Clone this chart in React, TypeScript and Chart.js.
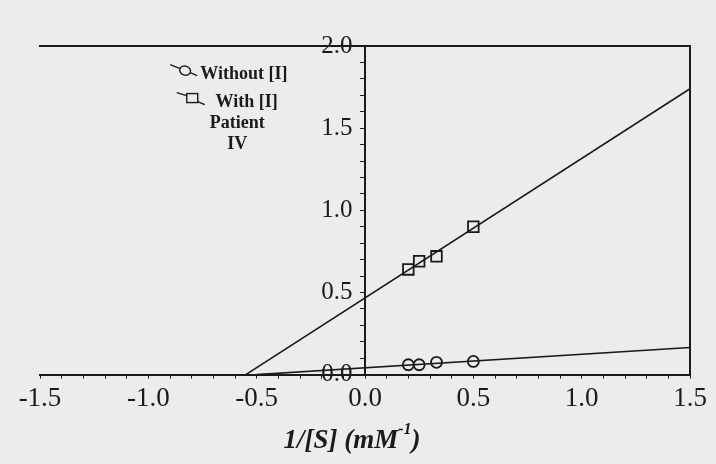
import React, { useEffect, useRef } from "react";
import { Chart, registerables } from "chart.js";
Chart.register(...registerables);

const withoutX = [0.2, 0.25, 0.33, 0.5];
const withoutY = [0.06, 0.06, 0.075, 0.08];
const withX = [0.2, 0.25, 0.33, 0.5];
const withY = [0.64, 0.69, 0.72, 0.9];
const withoutFitX = [-0.5, 1.5];
const withoutFitY = [0, 0.165];
const withFitX = [-0.55, 1.5];
const withFitY = [0, 1.74];
const legendLines = ["Without [I]", "With [I]", "Patient", "IV"];
const xTitle = "1/[S] (mM";
const xTitleSup = "-1";

const INK = "#1a1a1a";
const BG = "#ececec";
const SERIF = "'Liberation Serif', 'DejaVu Serif', serif";

const pts = (xs: number[], ys: number[]) => xs.map((x, i) => ({ x, y: ys[i] }));
const isHalf = (v: number) => Math.abs(v * 2 - Math.round(v * 2)) < 1e-6;

const bgPlugin = {
  id: "bg",
  beforeDraw(chart: any) {
    const { ctx, width, height } = chart;
    ctx.save();
    ctx.fillStyle = BG;
    ctx.fillRect(0, 0, width, height);
    ctx.restore();
  },
};

const legendPlugin = {
  id: "customLegend",
  afterDraw(chart: any) {
    const { ctx } = chart;
    const xs = chart.scales.x;
    const ys = chart.scales.y;
    ctx.save();
    ctx.fillStyle = INK;
    ctx.strokeStyle = INK;
    ctx.lineWidth = 1.4;
    ctx.font = `bold 18px ${SERIF}`;
    ctx.textBaseline = "middle";
    // Row 1: circle symbol
    let sx = xs.getPixelForValue(-0.83);
    let sy = ys.getPixelForValue(1.85);
    ctx.beginPath();
    ctx.moveTo(sx - 15, sy - 6);
    ctx.lineTo(sx - 5, sy - 2);
    ctx.moveTo(sx + 5, sy + 2);
    ctx.lineTo(sx + 12, sy + 5);
    ctx.stroke();
    ctx.beginPath();
    ctx.ellipse(sx, sy, 5.5, 4.5, 0.3, 0, Math.PI * 2);
    ctx.stroke();
    ctx.textAlign = "left";
    ctx.fillText(legendLines[0], xs.getPixelForValue(-0.76), ys.getPixelForValue(1.83));
    // Row 2: square symbol
    sx = xs.getPixelForValue(-0.795);
    sy = ys.getPixelForValue(1.68);
    ctx.beginPath();
    ctx.moveTo(sx - 16, sy - 6);
    ctx.lineTo(sx - 6, sy - 3);
    ctx.moveTo(sx + 5, sy + 3);
    ctx.lineTo(sx + 12, sy + 6);
    ctx.stroke();
    ctx.strokeRect(sx - 6, sy - 5, 11, 9);
    ctx.fillText(legendLines[1], xs.getPixelForValue(-0.69), ys.getPixelForValue(1.66));
    // Row 3, 4
    ctx.textAlign = "center";
    const cx = xs.getPixelForValue(-0.59);
    ctx.fillText(legendLines[2], cx, ys.getPixelForValue(1.53));
    ctx.fillText(legendLines[3], cx, ys.getPixelForValue(1.40));
    // x-axis title
    const area = chart.chartArea;
    const ty = area.bottom + 66;
    const big = `italic bold 27px ${SERIF}`;
    const small = `italic bold 16px ${SERIF}`;
    ctx.font = big;
    const mainW = ctx.measureText(xTitle).width;
    const closeW = ctx.measureText(")").width;
    ctx.font = small;
    const supW = ctx.measureText(xTitleSup).width;
    const total = mainW + supW + closeW;
    const tx = xs.getPixelForValue(-0.06) - total / 2;
    ctx.textAlign = "left";
    ctx.font = big;
    ctx.fillText(xTitle, tx, ty);
    ctx.font = small;
    ctx.fillText(xTitleSup, tx + mainW, ty - 11);
    ctx.font = big;
    ctx.fillText(")", tx + mainW + supW, ty);
    ctx.restore();
  },
};

export default function App() {
  const ref = useRef<HTMLCanvasElement>(null);
  useEffect(() => {
    document.body.style.margin = "0";
    document.body.style.background = BG;
    const chart = new Chart(ref.current!, {
      type: "scatter",
      data: {
        datasets: [
          {
            type: "line",
            label: "Without fit",
            data: pts(withoutFitX, withoutFitY),
            borderColor: INK,
            borderWidth: 1.6,
            pointRadius: 0,
            showLine: true,
          },
          {
            type: "line",
            label: "With fit",
            data: pts(withFitX, withFitY),
            borderColor: INK,
            borderWidth: 1.6,
            pointRadius: 0,
            showLine: true,
          },
          {
            label: "Without [I]",
            data: pts(withoutX, withoutY),
            pointStyle: "circle",
            pointRadius: 5.5,
            borderColor: INK,
            backgroundColor: BG,
            borderWidth: 1.8,
          },
          {
            label: "With [I]",
            data: pts(withX, withY),
            pointStyle: "rect",
            pointRadius: 7.5,
            borderColor: INK,
            backgroundColor: BG,
            borderWidth: 1.8,
          },
        ],
      },
      options: {
        animation: false,
        responsive: true,
        maintainAspectRatio: false,
        layout: { padding: { left: 40, right: 26, top: 46, bottom: 45 } },
        plugins: { legend: { display: false }, tooltip: { enabled: false } },
        scales: {
          x: {
            type: "linear",
            position: "bottom",
            min: -1.5,
            max: 1.5,
            grid: { display: true, drawOnChartArea: false, tickLength: 4, color: INK },
            border: { display: true, color: INK, width: 2 },
            ticks: {
              stepSize: 0.1,
              autoSkip: false,
              maxRotation: 0,
              padding: 4,
              color: INK,
              font: { family: SERIF, size: 27 },
              callback: (v: any) => (isHalf(v) ? Number(v).toFixed(1) : ""),
            },
          },
          x2: {
            type: "linear",
            position: "top",
            min: -1.5,
            max: 1.5,
            grid: { display: false, drawTicks: false },
            border: { display: true, color: INK, width: 2 },
            ticks: { display: false },
          },
          y: {
            type: "linear",
            position: { x: 0 } as any,
            min: 0,
            max: 2,
            grid: { display: true, drawOnChartArea: false, tickLength: 4, color: INK },
            border: { display: true, color: INK, width: 2 },
            ticks: {
              stepSize: 0.1,
              autoSkip: false,
              color: INK,
              font: { family: SERIF, size: 25 },
              callback: (v: any) => (isHalf(v) ? Number(v).toFixed(1) + "  " : ""),
            },
          },
          y2: {
            type: "linear",
            position: "right",
            min: 0,
            max: 2,
            grid: { display: false, drawTicks: false },
            border: { display: true, color: INK, width: 2 },
            ticks: { display: false },
          },
        },
      },
      plugins: [bgPlugin, legendPlugin],
    } as any);
    return () => chart.destroy();
  }, []);
  return (
    <div style={{ width: 716, height: 464, position: "relative" }}>
      <canvas ref={ref} />
    </div>
  );
}
